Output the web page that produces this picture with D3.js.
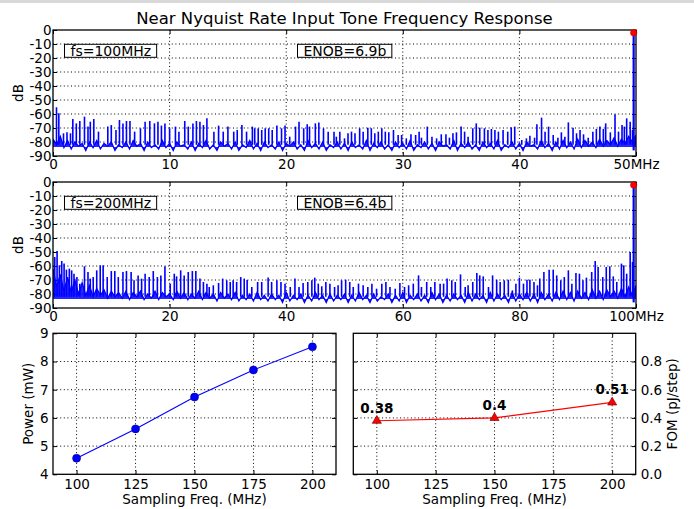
<!DOCTYPE html>
<html>
<head>
<meta charset="utf-8">
<script src="https://cdn.jsdelivr.net/npm/d3@7"></script>
<style>
  body { margin: 0; background: #fff; }
  svg { display: block; font-family: "DejaVu Sans", sans-serif; }
  .tick text { font-size: 13.5px; font-family: "DejaVu Sans", sans-serif; fill: #000; }
  .grid { stroke: #000; stroke-width: 1; stroke-dasharray: 1,2.6; }
  .lbl { font-size: 13.5px; fill: #000; }
</style>
</head>
<body>
<svg width="694" height="509"></svg>
<script>
// ---- data ----
const title = "Near Nyquist Rate Input Tone Frequency Response";

// fs = 100 MHz spectrum: noise floor bins (0..50 MHz) + spur peaks
const floor100 = [
  -78,-82,-76,-84,-79,-85,-80,-83,-81,-86,-80,-84,-79,-85,-81,-83,-80,-86,-82,-84,
  -80,-85,-79,-83,-81,-86,-80,-84,-82,-85,-79,-84,-81,-86,-80,-83,-82,-85,-80,-86,
  -81,-84,-79,-85,-82,-86,-80,-83,-81,-85,-80,-86,-82,-84,-79,-85,-81,-86,-80,-84,
  -82,-85,-80,-86,-81,-83,-80,-85,-82,-86,-79,-84,-81,-85,-80,-86,-82,-84,-80,-85,
  -81,-86,-80,-84,-82,-85,-79,-86,-81,-84,-80,-85,-82,-86,-80,-84,-81,-85,-79,-86,
  -82,-84,-80,-85,-81,-86,-80,-83,-82,-85,-79,-86,-81,-84,-80,-85,-82,-86,-80,-84,
  -81,-85,-79,-86,-82,-84,-80,-85,-81,-86,-80,-83,-82,-85,-79,-84,-81,-86,-80,-85,
  -79,-84,-80,-85,-78,-84,-79,-83,-80,-84,-78,-83,-79,-82,-77,-83,-78,-81,-76,-80,
  -75
];
const spur100Freq = [
  0.3,0.5,0.9,1.2,1.5,1.7,2.0,2.3,2.7,3.0,3.2,3.5,3.9,4.7,5.0,5.4,5.7,6.0,6.3,6.6,
  7.0,7.5,7.9,8.3,8.7,9.0,9.3,9.6,10.0,10.5,10.8,11.3,11.6,12.0,12.3,12.6,12.9,13.2,13.8,14.2,
  14.6,15.0,15.5,15.8,16.2,16.6,17.1,17.3,17.6,17.9,18.2,18.5,18.8,19.2,19.6,19.9,20.3,20.8,21.1,21.5,
  21.8,22.0,22.5,22.8,23.2,23.6,24.1,24.3,24.6,25.0,25.3,25.6,25.9,26.3,26.6,27.0,27.3,27.6,27.9,28.2,
  28.5,28.8,29.2,29.6,29.9,30.3,30.7,31.1,31.4,31.6,32.1,32.5,32.9,33.3,33.7,34.0,34.3,34.6,35.0,35.3,
  35.6,36.0,36.3,36.6,37.0,37.3,37.6,37.9,38.2,38.6,39.0,39.3,39.6,40.2,40.6,40.9,41.3,41.5,41.9,42.2,
  42.5,42.9,43.3,43.6,43.9,44.2,44.6,44.9,45.2,45.5,45.9,46.3,46.6,46.9,47.2,47.4,47.8,48.2,48.5,48.8,
  49.0,49.2,49.5,49.7
];
const spur100Db = [
  -55.2,-59.5,-73.8,-73.1,-73.8,-63.6,-66.7,-65.0,-61.9,-69.0,-65.5,-63.6,-72.6,-69.0,-67.9,-71.4,-64.3,-66.7,-65.0,-65.0,
  -72.6,-70.2,-65.5,-65.0,-66.7,-65.5,-68.3,-66.7,-70.2,-69.0,-72.6,-65.0,-69.0,-66.7,-65.0,-65.5,-67.9,-63.1,-72.6,-68.3,
  -72.6,-69.0,-72.6,-71.4,-67.9,-72.6,-69.0,-70.2,-70.2,-71.4,-70.2,-70.2,-71.4,-68.3,-70.2,-68.3,-76.2,-69.0,-65.5,-70.2,
  -67.4,-69.0,-66.7,-66.0,-70.2,-72.6,-72.6,-76.2,-72.6,-77.4,-73.8,-72.6,-73.8,-70.2,-72.6,-69.8,-70.2,-73.8,-72.6,-70.2,
  -72.6,-73.1,-71.4,-75.0,-75.0,-77.4,-74.5,-75.0,-72.6,-76.9,-69.0,-76.2,-77.4,-74.5,-74.5,-76.9,-73.8,-73.1,-69.0,-72.6,
  -76.2,-70.2,-66.7,-69.8,-70.2,-71.4,-70.7,-71.4,-72.6,-71.4,-72.6,-69.5,-69.0,-78.6,-77.4,-75.5,-76.9,-67.4,-62.6,-72.6,
  -69.0,-75.0,-76.9,-73.1,-76.2,-66.0,-69.8,-73.8,-71.4,-74.5,-76.9,-72.6,-70.7,-69.0,-70.7,-66.7,-73.1,-60.2,-72.6,-67.9,
  -69.0,-63.1,-65.5,-71.4
];

// fs = 200 MHz spectrum: noise floor bins (0..100 MHz) + spur peaks
const floor200 = [
  -62,-75,-66,-78,-68,-79,-70,-80,-72,-81,-74,-82,-76,-81,-77,-83,-78,-82,-79,-83,
  -78,-84,-79,-82,-78,-84,-80,-83,-78,-84,-79,-82,-80,-84,-78,-83,-79,-84,-80,-83,
  -78,-84,-79,-83,-80,-85,-79,-83,-80,-84,-79,-85,-81,-84,-80,-85,-79,-84,-81,-85,
  -80,-84,-81,-86,-79,-85,-81,-84,-80,-86,-81,-85,-79,-84,-81,-86,-80,-85,-81,-84,
  -80,-86,-81,-85,-79,-84,-81,-86,-80,-85,-82,-84,-80,-86,-81,-85,-79,-86,-81,-84,
  -80,-85,-81,-86,-79,-84,-80,-86,-81,-85,-80,-84,-81,-86,-79,-85,-80,-84,-81,-86,
  -79,-85,-80,-84,-81,-86,-79,-85,-80,-84,-79,-85,-80,-86,-79,-84,-80,-85,-79,-84,
  -78,-84,-79,-85,-78,-83,-79,-84,-77,-83,-78,-84,-77,-82,-78,-83,-76,-82,-75,-81,
  -74
];
const spur200Freq = [
  0.3,0.7,1.1,1.5,1.9,2.3,2.8,3.2,3.6,4.1,4.6,5.4,6.0,6.4,6.9,7.5,8.1,8.6,9.3,10.0,
  10.6,11.2,12.0,12.6,13.4,13.9,14.6,15.2,15.8,16.5,17.2,17.9,18.5,19.2,20.1,20.8,21.2,21.9,22.5,23.2,
  23.9,24.5,25.2,25.8,26.4,26.8,27.5,28.4,29.1,29.8,30.4,30.9,31.5,32.2,32.8,33.3,34.1,35.1,35.8,36.9,
  37.5,38.4,39.1,39.8,40.7,41.5,42.2,42.9,43.7,44.4,44.9,45.5,46.1,46.8,47.5,48.3,48.9,49.5,50.2,50.9,
  51.5,52.4,53.2,54.0,54.7,55.5,56.4,57.1,57.8,58.7,59.5,60.3,61.0,61.8,62.7,63.2,64.1,64.8,65.5,66.4,
  67.0,67.6,68.4,69.0,69.9,70.7,71.2,72.0,72.7,73.2,73.8,74.7,75.4,76.1,76.7,77.4,78.1,78.8,79.4,80.0,
  80.7,81.3,81.8,82.5,83.1,83.5,84.2,85.1,85.8,86.4,87.1,87.7,88.4,89.0,89.7,90.3,90.9,91.5,92.4,93.0,
  93.5,94.3,94.9,95.5,96.1,96.7,97.5,97.9,98.4,99.0,99.4
];
const spur200Db = [
  -53.6,-49.3,-59.5,-56.4,-58.3,-62.6,-61.9,-63.1,-65.5,-67.9,-72.6,-60.2,-64.3,-69.0,-67.9,-63.1,-59.5,-59.5,-67.9,-63.6,
  -63.6,-67.9,-64.3,-63.6,-64.3,-70.2,-66.7,-69.0,-65.5,-67.9,-63.6,-67.9,-66.7,-60.2,-72.6,-65.5,-67.4,-63.1,-66.7,-64.3,
  -63.6,-63.6,-69.0,-71.4,-72.6,-75.0,-73.8,-72.1,-69.0,-70.2,-71.4,-70.2,-71.4,-67.9,-69.0,-70.0,-75.0,-71.4,-71.4,-68.3,
  -71.4,-70.2,-71.4,-72.6,-75.0,-69.0,-75.0,-72.1,-71.4,-70.2,-68.3,-72.6,-74.5,-71.4,-72.6,-75.0,-73.8,-70.2,-69.8,-71.4,
  -75.0,-72.6,-73.8,-75.0,-72.6,-76.2,-72.6,-71.4,-75.0,-76.2,-72.1,-75.0,-73.8,-72.6,-66.7,-75.0,-71.4,-75.0,-71.4,-72.6,
  -72.6,-69.0,-70.2,-71.4,-66.0,-75.0,-73.8,-71.4,-65.0,-66.7,-67.4,-75.0,-66.7,-69.8,-71.4,-70.2,-69.8,-77.4,-72.6,-68.3,
  -72.6,-69.8,-69.8,-71.4,-73.8,-69.0,-64.3,-62.6,-62.6,-66.7,-70.2,-67.9,-63.1,-72.6,-65.0,-65.5,-70.2,-68.3,-64.3,-56.4,
  -60.7,-67.9,-60.7,-60.2,-67.4,-71.4,-58.3,-59.5,-65.5,-50.0,-57.1
];

// input tone (marked with a red dot)
const toneFreq = [49.8, 99.6];
const toneDb = [-2.0, -2.1];
const fsLabels = ["fs=100MHz", "fs=200MHz"];
const enobLabels = ["ENOB=6.9b", "ENOB=6.4b"];

// power / FOM vs sampling frequency
const powerFreq = [100, 125, 150, 175, 200];
const powerMw = [4.57, 5.61, 6.74, 7.70, 8.52];
const fomFreq = [100, 150, 200];
const fomVal = [0.38, 0.40, 0.51];

// ---- layout ----
const svg = d3.select("svg");
const blue = "#0000ff", red = "#ff0000";
const spurBase = -82;     // spur lines start inside the noise band
const bandBottom = -83.5; // lower edge of the filled noise band

svg.append("rect").attr("x", 0).attr("y", 0).attr("width", 694).attr("height", 3).attr("fill", "#d9d9d9");

svg.append("text")
  .attr("x", 344.5).attr("y", 24)
  .attr("text-anchor", "middle")
  .style("font-size", "16.5px")
  .text(title);

function axes(p) {
  const g = svg.append("g");
  g.append("g").selectAll("line").data(p.xGrid).join("line")
    .attr("class", "grid")
    .attr("x1", d => p.x(d)).attr("x2", d => p.x(d))
    .attr("y1", p.top).attr("y2", p.bottom);
  g.append("g").selectAll("line").data(p.yGrid).join("line")
    .attr("class", "grid")
    .attr("x1", p.left).attr("x2", p.right)
    .attr("y1", d => p.y(d)).attr("y2", d => p.y(d));

  const strip = s => s.call(a => a.select(".domain").remove())
                      .attr("font-size", null).attr("font-family", null);

  g.append("g").attr("transform", `translate(0,${p.bottom})`)
    .call(d3.axisBottom(p.x).tickValues(p.xTicks).tickFormat(p.xFmt)
      .tickSize(-4).tickPadding(p.xPad)).call(strip);
  g.append("g").attr("transform", `translate(0,${p.top})`)
    .call(d3.axisTop(p.x).tickValues(p.xTicks).tickFormat("").tickSize(-4)).call(strip);

  const yl = p.yRight ? d3.axisRight(p.y) : d3.axisLeft(p.y);
  const yo = p.yRight ? d3.axisLeft(p.y) : d3.axisRight(p.y);
  g.append("g").attr("transform", `translate(${p.yRight ? p.right : p.left},0)`)
    .call(yl.tickValues(p.yTicks).tickFormat(p.yFmt).tickSize(-4).tickPadding(p.yPad)).call(strip);
  g.append("g").attr("transform", `translate(${p.yRight ? p.left : p.right},0)`)
    .call(yo.tickValues(p.yTicks).tickFormat("").tickSize(-4)).call(strip);
  return g;
}

function frame(p) {
  svg.append("rect")
    .attr("x", p.left).attr("y", p.top)
    .attr("width", p.right - p.left).attr("height", p.bottom - p.top)
    .attr("fill", "none").attr("stroke", "#000").attr("stroke-width", 1.3);
}

function spectrumPanel(k, top, xMax, xStep, floor, spurF, spurD) {
  const p = {
    left: 53, right: 636, top: top, bottom: top + 126,
    xPad: 3.6, yPad: 1.5
  };
  p.x = d3.scaleLinear().domain([0, xMax]).range([p.left, p.right]);
  p.y = d3.scaleLinear().domain([-90, 0]).range([p.bottom, p.top]);
  p.xTicks = d3.range(0, xMax + 1, xStep);
  p.xGrid = p.xTicks.slice(1, -1);
  p.yTicks = d3.range(-90, 1, 10);
  p.yGrid = p.yTicks.slice(1, -1);
  p.xFmt = d => d === xMax ? d + "MHz" : d;
  p.yFmt = d => d;

  axes(p);

  const clipId = "clip" + k;
  svg.append("clipPath").attr("id", clipId).append("rect")
    .attr("x", p.left).attr("y", p.top)
    .attr("width", p.right - p.left).attr("height", p.bottom - p.top);
  const g = svg.append("g").attr("clip-path", `url(#${clipId})`);

  const bin = xMax / (floor.length - 1);
  g.append("path").datum(floor)
    .attr("fill", blue).attr("fill-opacity", 0.85)
    .attr("d", d3.area().x((d, i) => p.x(i * bin)).y0(p.y(bandBottom)).y1(d => p.y(d)));
  g.append("path").datum(floor)
    .attr("fill", "none").attr("stroke", blue).attr("stroke-width", 1.3)
    .attr("d", d3.line().x((d, i) => p.x(i * bin)).y(d => p.y(d)));

  g.selectAll("line.spur").data(spurF).join("line")
    .attr("class", "spur")
    .attr("x1", d => p.x(d)).attr("x2", d => p.x(d))
    .attr("y1", p.y(spurBase)).attr("y2", (d, i) => p.y(spurD[i]))
    .attr("stroke", blue).attr("stroke-width", 1.6);

  g.append("line")
    .attr("x1", p.x(toneFreq[k])).attr("x2", p.x(toneFreq[k]))
    .attr("y1", p.y(-86)).attr("y2", p.y(toneDb[k]))
    .attr("stroke", blue).attr("stroke-width", 2.2);

  frame(p);

  svg.append("circle")
    .attr("cx", p.x(toneFreq[k])).attr("cy", p.y(toneDb[k])).attr("r", 3.2)
    .attr("fill", red).attr("stroke", "#b00000").attr("stroke-width", 0.5);

  // text boxes
  [[fsLabels[k], p.left + 17.5], [enobLabels[k], p.left + 250.5]].forEach(([t, tx]) => {
    const by = p.top + 26;
    const txt = svg.append("text").attr("x", tx).attr("y", by)
      .style("font-size", "14px").text(t);
    const w = txt.node().getComputedTextLength();
    svg.insert("rect", () => txt.node())
      .attr("x", tx - 6).attr("y", by - 11.7)
      .attr("width", w + 11.5).attr("height", 13)
      .attr("fill", "#fff").attr("stroke", "#000").attr("stroke-width", 1);
  });

  svg.append("text").attr("class", "lbl")
    .attr("transform", `translate(22.7,${(p.top + p.bottom) / 2}) rotate(-90)`)
    .attr("text-anchor", "middle").text("dB");
}

spectrumPanel(0, 30, 50, 10, floor100, spur100Freq, spur100Db);
spectrumPanel(1, 182, 100, 20, floor200, spur200Freq, spur200Db);

// ---- power panel ----
const pp = { left: 53, right: 336, top: 333.3, bottom: 474.3, xPad: 5.3, yPad: 4.5 };
pp.x = d3.scaleLinear().domain([90, 210]).range([pp.left, pp.right]);
pp.y = d3.scaleLinear().domain([4, 9]).range([pp.bottom, pp.top]);
pp.xTicks = [100, 125, 150, 175, 200];
pp.xGrid = pp.xTicks;
pp.yTicks = [4, 5, 6, 7, 8, 9];
pp.yGrid = [5, 6, 7, 8];
pp.xFmt = d => d; pp.yFmt = d => d;
axes(pp);
svg.append("path").datum(powerMw)
  .attr("fill", "none").attr("stroke", blue).attr("stroke-width", 1.1)
  .attr("d", d3.line().x((d, i) => pp.x(powerFreq[i])).y(d => pp.y(d)));
svg.append("g").selectAll("circle").data(powerMw).join("circle")
  .attr("cx", (d, i) => pp.x(powerFreq[i])).attr("cy", d => pp.y(d)).attr("r", 4)
  .attr("fill", blue).attr("stroke", "#000080").attr("stroke-width", 0.6);
frame(pp);
svg.append("text").attr("class", "lbl")
  .attr("transform", `translate(33.3,${(pp.top + pp.bottom) / 2}) rotate(-90)`)
  .attr("text-anchor", "middle").text("Power (mW)");
svg.append("text").attr("class", "lbl")
  .attr("x", (pp.left + pp.right) / 2).attr("y", 503.5)
  .attr("text-anchor", "middle").text("Sampling Freq. (MHz)");

// ---- FOM panel ----
const fp = { left: 353.3, right: 635.7, top: 333.3, bottom: 474.3, xPad: 5.3, yPad: 5, yRight: true };
fp.x = d3.scaleLinear().domain([90, 210]).range([fp.left, fp.right]);
fp.y = d3.scaleLinear().domain([0, 1]).range([fp.bottom, fp.top]);
fp.xTicks = [100, 125, 150, 175, 200];
fp.xGrid = fp.xTicks;
fp.yTicks = [0, 0.2, 0.4, 0.6, 0.8];
fp.yGrid = [0.2, 0.4, 0.6, 0.8];
fp.xFmt = d => d; fp.yFmt = d3.format(".1f");
axes(fp);
svg.append("path").datum(fomVal)
  .attr("fill", "none").attr("stroke", red).attr("stroke-width", 1.1)
  .attr("d", d3.line().x((d, i) => fp.x(fomFreq[i])).y(d => fp.y(d)));
svg.append("g").selectAll("path").data(fomVal).join("path")
  .attr("transform", (d, i) => `translate(${fp.x(fomFreq[i])},${fp.y(d)})`)
  .attr("d", d3.symbol(d3.symbolTriangle, 36))
  .attr("fill", red).attr("stroke", "#600000").attr("stroke-width", 0.6);
svg.append("g").selectAll("text").data(fomVal).join("text")
  .attr("x", (d, i) => fp.x(fomFreq[i])).attr("y", d => fp.y(d) - 8)
  .attr("text-anchor", "middle")
  .style("font-size", "13.5px").style("font-weight", "bold")
  .text(d => String(d));
frame(fp);
svg.append("text").attr("class", "lbl")
  .attr("transform", `translate(677.3,${(fp.top + fp.bottom) / 2}) rotate(-90)`)
  .attr("text-anchor", "middle").text("FOM (pJ/step)");
svg.append("text").attr("class", "lbl")
  .attr("x", (fp.left + fp.right) / 2).attr("y", 503.5)
  .attr("text-anchor", "middle").text("Sampling Freq. (MHz)");
</script>
</body>
</html>
